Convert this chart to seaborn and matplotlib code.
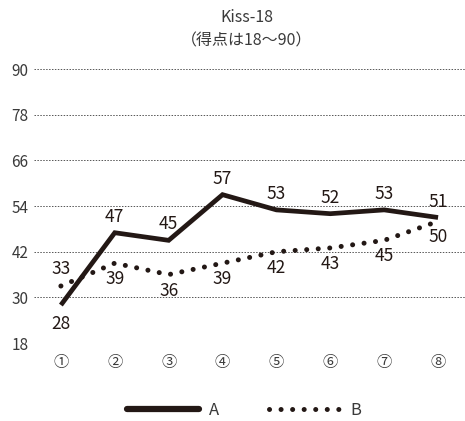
import matplotlib
matplotlib.use('Agg')
import matplotlib.pyplot as plt
import seaborn as sns
import pandas as pd
from matplotlib.lines import Line2D

# data
rounds = ['①', '②', '③', '④', '⑤', '⑥', '⑦', '⑧']
score_a = [28, 47, 45, 57, 53, 52, 53, 51]
score_b = [33, 39, 36, 39, 42, 43, 45, 50]
y_ticks = [18, 30, 42, 54, 66, 78, 90]

sns.set_style('white')
plt.rcParams['font.family'] = ['Noto Sans CJK JP', 'DejaVu Sans']

ink = '#231815'
text_col = '#3a3a3a'

df = pd.DataFrame({
    'pos': list(range(len(rounds))) * 2,
    'score': score_a + score_b,
    'series': ['A'] * len(rounds) + ['B'] * len(rounds),
})

fig = plt.figure(figsize=(4.65, 4.21), dpi=100)
ax = fig.add_axes([0.073, 0.185, 0.927, 0.651])

sns.lineplot(data=df, x='pos', y='score', hue='series', style='series',
             palette={'A': ink, 'B': ink},
             dashes={'A': '', 'B': (0.01, 2.3)},
             ax=ax, legend=False)
la, lb = ax.lines[0], ax.lines[1]
la.set_linewidth(3.4)
la.set_solid_joinstyle('miter')
la.set_solid_capstyle('butt')
lb.set_linewidth(3.6)
lb.set_dash_capstyle('round')

ax.set_xlim(-0.5, 7.5)
ax.set_ylim(18, 90)
ax.set_yticks(y_ticks)
ax.set_xticks(range(len(rounds)))
ax.set_xticklabels(rounds)
ax.tick_params(axis='x', length=0, pad=8, labelsize=11, labelcolor=text_col)
ax.tick_params(axis='y', length=0, pad=4, labelsize=11, labelcolor=text_col)
ax.set_xlabel('')
ax.set_ylabel('')
for s in ax.spines.values():
    s.set_visible(False)
ax.yaxis.grid(True, linestyle=(0, (1.5, 1.5)), color='#555555', linewidth=0.7)
ax.set_axisbelow(True)

fs = 12.5
for i, v in enumerate(score_a):
    if i == 0:
        ax.annotate(str(v), (i, v), xytext=(0, -7), textcoords='offset points',
                    ha='center', va='top', fontsize=fs, color=ink)
    else:
        ax.annotate(str(v), (i, v), xytext=(0, 5), textcoords='offset points',
                    ha='center', va='bottom', fontsize=fs, color=ink)
for i, v in enumerate(score_b):
    if i == 0:
        ax.annotate(str(v), (i, v), xytext=(0, 6), textcoords='offset points',
                    ha='center', va='bottom', fontsize=fs, color=ink)
    else:
        ax.annotate(str(v), (i, v), xytext=(0, -5), textcoords='offset points',
                    ha='center', va='top', fontsize=fs, color=ink)

fig.text(0.53, 0.958, 'Kiss-18', ha='center', va='center', fontsize=11.5, color=text_col)
fig.text(0.53, 0.903, '（得点は18～90）', ha='center', va='center', fontsize=11.5, color=text_col)

handles = [
    Line2D([], [], color=ink, linewidth=4.5, solid_capstyle='round'),
    Line2D([], [], color=ink, linewidth=3.6, linestyle=(0, (0.01, 2.3)),
           dash_capstyle='round'),
]
fig.legend(handles, ['A', 'B'], loc='center', bbox_to_anchor=(0.525, 0.025),
           ncol=2, frameon=False, handlelength=4.3, columnspacing=3.0,
           handletextpad=0.6, fontsize=12, labelcolor=text_col)

fig.savefig('out.png', dpi=100)
